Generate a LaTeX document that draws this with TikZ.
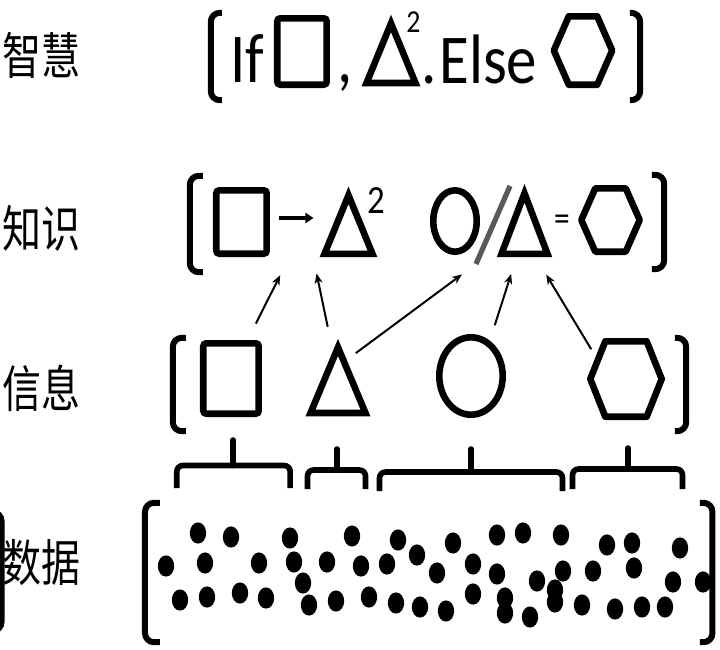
\documentclass[tikz,border=0pt]{standalone}
\usepackage{fontspec}
\setmainfont{Carlito}[FakeStretch=0.87]
\newfontfamily\cjk[FakeStretch=0.78]{Noto Sans CJK SC}
\usetikzlibrary{shapes.geometric, calc, arrows.meta}

\begin{document}
\begin{tikzpicture}[
	x=0.5pt, y=-0.5pt,
	lbl/.style={font=\cjk\fontsize{25}{25}\selectfont, inner sep=0},
	txt/.style={font=\fontsize{35}{35}\selectfont, inner sep=0, anchor=base west},
	pow/.style={font=\fontsize{#1}{#1}\selectfont, inner sep=0, anchor=base west},
	eq/.style={font=\fontsize{18}{18}\selectfont, inner sep=0},
	ln/.style={line width=3.3pt},
	sq/.style={draw, ln, rounded corners=1.5pt, inner sep=0, outer sep=0},
	oval/.style={draw, ln, ellipse, inner sep=0, outer sep=0},
	slot/.style={inner sep=0, outer sep=0},
	tri/.style={ln, line join=miter},
	hexa/.style={ln, line join=round},
	brk/.style={line width=3pt, rounded corners=4.5pt},
	brc/.style={line width=2.8pt, rounded corners=3pt},
	spk/.style={line width=2.8pt, line cap=round},
	lift/.style={-{Stealth[length=5pt, width=4pt]}, line width=1pt},
	rel/.style={-{Triangle[length=4pt, width=5pt]}, line width=1.6pt},
	cut/.style={line width=2.6pt, black!65},
	blob/.style={fill=black}
]
	\useasboundingbox (0,0) rectangle (720,650);

	% labels
	\node[lbl] (wLbl) at (41.5,55) {智慧};
	\node[lbl] (kLbl) at (41.5,228) {知识};
	\node[lbl] (iLbl) at (42,388) {信息};
	\node[lbl] (dLbl) at (41.5,563) {数据};

	% wisdom
	\draw[brk] (222,12.8) -- (210.8,12.8) -- (210.8,100.2) -- (222,100.2);
	\node[txt] (wIf) at (230,82) {If};
	\node[sq, minimum width=24.7pt, minimum height=33.2pt] (wSq) at (302,51.5) {};
	\node[txt] (wComma) at (337,82) {,};
	\node[slot, minimum width=24.5pt, minimum height=29.8pt] (wTri) at (391,53.2) {};
	\node[pow=16] (wPow) at (406,32) {2};
	\node[txt] (wDot) at (421,83) {.};
	\node[txt] (wElse) at (439,83) {Else};
	\node[slot, minimum width=29.2pt, minimum height=34.2pt] (wHex) at (583,50.5) {};
	\draw[brk] (630,12.8) -- (640.2,12.8) -- (640.2,100.2) -- (630,100.2);
	\draw[tri] (wTri.south west) -- (wTri.north) -- (wTri.south east) -- cycle;
	\draw[hexa] (wHex.west) -- ([xshift=7.5pt]wHex.north west) -- ([xshift=-7.5pt]wHex.north east)
		-- (wHex.east) -- ([xshift=-7.5pt]wHex.south east) -- ([xshift=7.5pt]wHex.south west) -- cycle;

	% knowledge
	\draw[brk] (203,175.8) -- (189.8,175.8) -- (189.8,272.2) -- (203,272.2);
	\node[sq, minimum width=25.2pt, minimum height=31.7pt] (kSq) at (241.5,222) {};
	\node[slot, minimum width=24pt, minimum height=29.3pt] (kTri1) at (348.5,224.6) {};
	\node[pow=20] (kPow) at (367,213) {2};
	\node[oval, minimum width=21.7pt, minimum height=30.7pt] (kOval) at (455,221) {};
	\node[slot, minimum width=23pt, minimum height=30.3pt] (kTri2) at (524.5,223.6) {};
	\node[eq] (kEq) at (562,222.5) {=};
	\node[slot, minimum width=29.2pt, minimum height=31.7pt] (kHex) at (610.5,220) {};
	\draw[brk] (652,174.8) -- (664.2,174.8) -- (664.2,269.2) -- (652,269.2);
	\draw[tri] (kTri1.south west) -- (kTri1.north) -- (kTri1.south east) -- cycle;
	\draw[tri] (kTri2.south west) -- (kTri2.north) -- (kTri2.south east) -- cycle;
	\draw[hexa] (kHex.west) -- ([xshift=7pt]kHex.north west) -- ([xshift=-7pt]kHex.north east)
		-- (kHex.east) -- ([xshift=-7pt]kHex.south east) -- ([xshift=7pt]kHex.south west) -- cycle;
	\draw[rel, shorten <=6pt, shorten >=5.5pt] ([yshift=2pt]kSq.east) -- ([yshift=3.3pt]kTri1.west);
	\draw[cut] (510,186) coordinate (kSlashTop) -- (476,264) coordinate (kSlashBot);

	% information
	\draw[brk] (186,337.8) -- (172.8,337.8) -- (172.8,431.2) -- (186,431.2);
	\node[sq, minimum width=27.7pt, minimum height=35.2pt] (iSq) at (231,378.5) {};
	\node[slot, minimum width=27.5pt, minimum height=32.8pt] (iTri) at (338,380.2) {};
	\node[oval, minimum width=31.7pt, minimum height=38.7pt] (iOval) at (471,376) {};
	\node[slot, minimum width=35.7pt, minimum height=37.7pt] (iHex) at (626,379) {};
	\draw[brk] (675,337.8) -- (686.2,337.8) -- (686.2,431.2) -- (675,431.2);
	\draw[tri] (iTri.south west) -- (iTri.north) -- (iTri.south east) -- cycle;
	\draw[hexa] (iHex.west) -- ([xshift=7.5pt]iHex.north west) -- ([xshift=-7.5pt]iHex.north east)
		-- (iHex.east) -- ([xshift=-7.5pt]iHex.south east) -- ([xshift=7.5pt]iHex.south west) -- cycle;

	% information -> knowledge
	\draw[lift, shorten <=11pt, shorten >=32pt] (iSq.67) -- ([xshift=-7.75pt, yshift=3.3pt]kTri1.west);
	\draw[lift, shorten <=10.5pt, shorten >=10pt] ([xshift=-3pt]iTri.north) -- ([xshift=-6pt]kTri1.south west);
	\draw[lift, shorten <=7.3pt, shorten >=8.7pt] ($(iTri.north)!0.22!(iTri.south east)$) -- (kSlashBot);
	\draw[lift, shorten <=9.8pt, shorten >=10.5pt] (iOval.61) -- ($(kTri2.south west)!0.35!(kTri2.south east)$);
	\draw[lift, shorten <=6.4pt, shorten >=12.1pt] ($([xshift=7.5pt]iHex.north west)!0.5!(iHex.west)$)
		-- ($(kTri2.south west)!0.7!(kTri2.south east)$);

	% braces
	\draw[brc] (176.8,488) -- (176.8,465.5) -- (290.2,465.5) -- (290.2,488);
	\draw[spk] (233,465.5) -- (233,440);
	\draw[brc] (307.5,489) -- (307.5,470) -- (365.5,470) -- (365.5,489);
	\draw[spk] (337,470) -- (337,449);
	\draw[brc] (379.5,491) -- (379.5,472) -- (562.5,472) -- (562.5,491);
	\draw[spk] (471,472) -- (471,449);
	\draw[brc] (572.5,489) -- (572.5,469) -- (682.5,469) -- (682.5,489);
	\draw[spk] (628,469) -- (628,448);

	% data
	\draw[brk] (-12,512) -- (1.5,512) -- (1.5,631) -- (-12,631);
	\draw[brk] (160,502.8) -- (145,502.8) -- (145,642.2) -- (160,642.2);
	\draw[brk] (700,502.8) -- (712.5,502.8) -- (712.5,642.2) -- (700,642.2);
	\foreach \x/\y in {198/533, 231/537, 290/538, 352/536, 398/540, 417/555,
		166/566, 205/563, 259/563, 294/562, 327/562, 361/566, 387/564, 303/583,
		180/600, 207/597, 240/593, 266/598, 309/605, 336/601, 369/597, 396/603, 420/607,
		453/543, 497/535, 523/533, 561/535, 607/545, 632/543, 680/548,
		437/573, 473/564, 497/574, 537/581, 563/571, 593/571, 634/568, 673/582, 703/582,
		446/611, 473/594, 505/598, 505/613, 530/617, 555/590, 555/602, 582/605, 615/609, 642/607, 665/607}
		\fill[blob] (\x,\y) ellipse [x radius=4.1pt, y radius=5.3pt];
\end{tikzpicture}
\end{document}
